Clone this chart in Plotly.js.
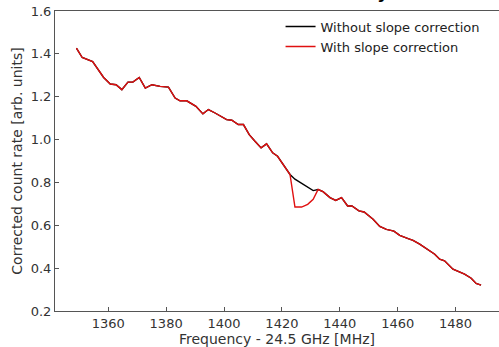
<!DOCTYPE html>
<html>
<head>
<meta charset="utf-8">
<script src="https://cdn.plot.ly/plotly-3.0.1.min.js"></script>
<style>html,body{margin:0;padding:0;background:#fff;}#chart{width:499px;height:347px;}</style>
</head>
<body>
<div id="chart"></div>
<script>
// Frequency offsets (MHz, relative to 24.5 GHz)
const freq = [1349.0,1351.0,1354.6,1356.7,1358.4,1360.7,1362.7,1364.7,1366.8,1368.5,
  1370.7,1372.8,1375.1,1377.9,1380.8,1383.1,1384.8,1387.1,1390.3,1392.7,
  1394.6,1396.9,1399.2,1400.9,1402.7,1404.9,1406.7,1408.7,1410.7,1412.8,
  1414.7,1416.8,1418.5,1420.4,1422.8,1424.5,1426.8,1428.9,1430.8,1432.5,
  1434.2,1436.6,1438.6,1440.6,1442.7,1444.2,1446.6,1448.4,1451.5,1453.8,
  1456.1,1458.7,1460.7,1463.6,1465.3,1467.6,1470.4,1472.8,1474.5,1476.2,
  1479.1,1480.8,1483.1,1485.4,1487.1,1488.8];
// Corrected count rate without slope correction
const withoutSlope = [1.427,1.383,1.364,1.326,1.290,1.259,1.256,1.233,1.268,1.268,
  1.290,1.240,1.256,1.248,1.245,1.194,1.181,1.181,1.155,1.120,
  1.140,1.124,1.106,1.093,1.090,1.070,1.070,1.023,0.992,0.961,
  0.980,0.938,0.922,0.884,0.837,0.815,0.795,0.779,0.762,0.767,
  0.757,0.729,0.716,0.729,0.690,0.690,0.667,0.662,0.628,0.595,
  0.581,0.573,0.553,0.538,0.530,0.512,0.488,0.465,0.442,0.434,
  0.395,0.385,0.372,0.353,0.329,0.321];
// Corrected count rate with slope correction
const withSlope = [1.427,1.383,1.364,1.326,1.290,1.259,1.256,1.233,1.268,1.268,
  1.290,1.240,1.256,1.248,1.245,1.194,1.181,1.181,1.155,1.120,
  1.140,1.124,1.106,1.093,1.090,1.070,1.070,1.023,0.992,0.961,
  0.980,0.938,0.922,0.884,0.837,0.685,0.685,0.698,0.721,0.767,
  0.757,0.729,0.716,0.729,0.690,0.690,0.667,0.662,0.628,0.595,
  0.581,0.573,0.553,0.538,0.530,0.512,0.488,0.465,0.442,0.434,
  0.395,0.385,0.372,0.353,0.329,0.321];
const seriesNames = ["Without slope correction", "With slope correction"];
const xTicks = [1360,1380,1400,1420,1440,1460,1480];
const yTicks = [0.2,0.4,0.6,0.8,1.0,1.2,1.4,1.6];
const yTickText = ["0.2","0.4","0.6","0.8","1.0","1.2","1.4","1.6"];

const font = {family: "DejaVu Sans, sans-serif", size: 13, color: "#333"};
const traces = [
  {x: freq, y: withoutSlope, name: seriesNames[0], mode: "lines", line: {color: "#000000", width: 1.4}},
  {x: freq, y: withSlope, name: seriesNames[1], mode: "lines", line: {color: "#e01010", width: 1.4}}
];
const layout = {
  width: 499, height: 347,
  margin: {l: 55, r: 0, t: 11, b: 36},
  paper_bgcolor: "#fff", plot_bgcolor: "#fff",
  font: font,
  showlegend: true,
  legend: {x: 0.508, y: 0.998, xanchor: "left", yanchor: "top", bgcolor: "rgba(0,0,0,0)",
    font: {family: "DejaVu Sans, sans-serif", size: 13, color: "#222"}, tracegroupgap: 0},
  xaxis: {range: [1341.6, 1495], tickvals: xTicks, ticks: "inside", ticklen: 4, tickcolor: "#555",
    showline: true, linecolor: "#555", linewidth: 1, mirror: true, showgrid: false, zeroline: false,
    tickfont: {size: 13, color: "#333"},
    title: {text: "Frequency - 24.5 GHz [MHz]", font: {size: 14, color: "#333"}, standoff: 1}},
  yaxis: {range: [0.2, 1.6], tickvals: yTicks, ticktext: yTickText, ticks: "inside", ticklen: 4, tickcolor: "#555",
    showline: true, linecolor: "#555", linewidth: 1, showgrid: false, zeroline: false,
    tickfont: {size: 13, color: "#333"},
    title: {text: "Corrected count rate [arb. units]", font: {size: 14, color: "#333"}, standoff: 4}},
  annotations: [{text: "y", xref: "paper", yref: "paper", x: 0.740, y: 1.072, xanchor: "center", yanchor: "middle",
    showarrow: false, font: {family: "DejaVu Sans, sans-serif", size: 24, color: "#000"}}]
};
Plotly.newPlot("chart", traces, layout, {displayModeBar: false, staticPlot: true});
</script>
</body>
</html>
